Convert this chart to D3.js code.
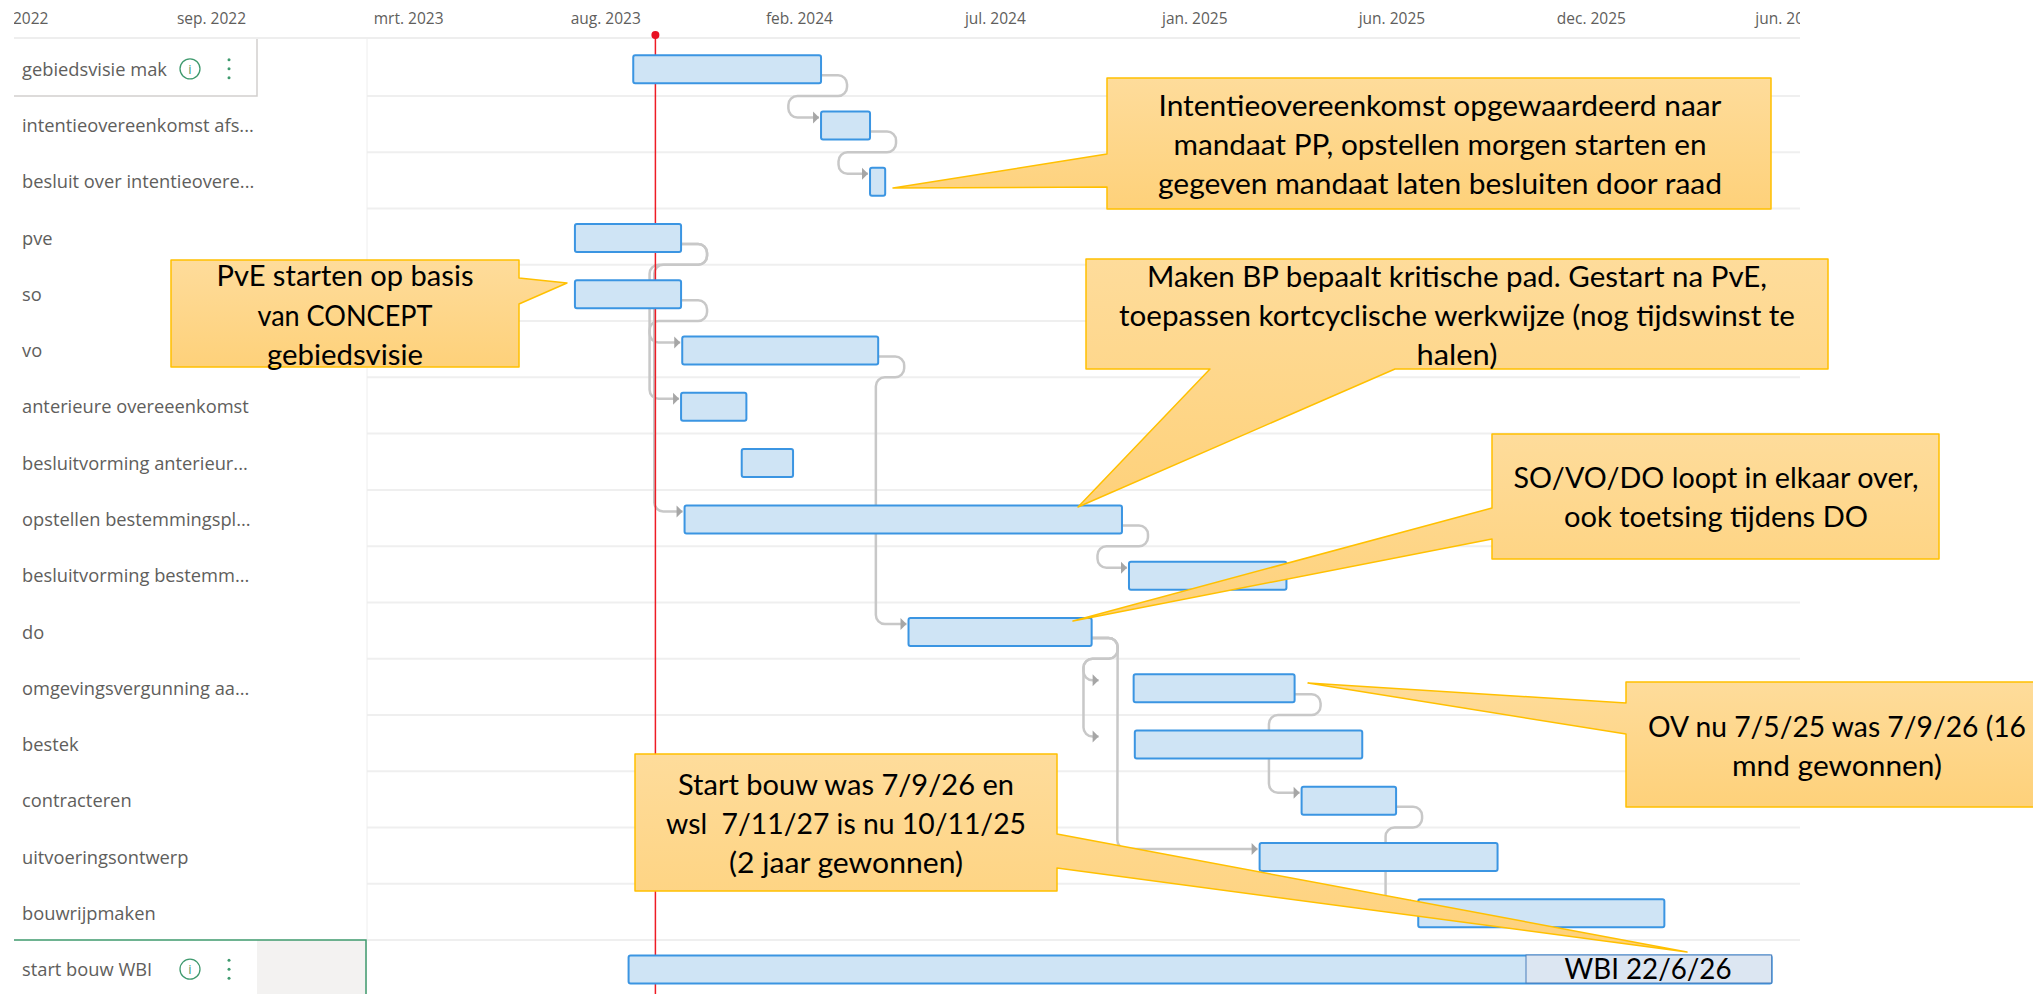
<!DOCTYPE html>
<html>

<head>
  <meta charset="utf-8">
  <script src="https://cdn.jsdelivr.net/npm/d3@7/dist/d3.min.js"></script>
  <style>
    body {
      margin: 0;
      background: white;
    }

    svg {
      display: block;
    }

    .tick text {
      font-family: "Open Sans", sans-serif;
      font-size: 15.5px;
      fill: #605e5c;
    }

    .label {
      font-family: "Open Sans", sans-serif;
      font-size: 18.3px;
      fill: #605e5c;
    }

    .note {
      font-family: Lato, sans-serif;
      font-size: 28.5px;
      fill: black;
      text-anchor: middle;
      white-space: pre;
    }
  </style>
</head>

<body>
  <script>
    const tasks = [
      'gebiedsvisie mak',
      'intentieovereenkomst afs...',
      'besluit over intentieovere...',
      'pve',
      'so',
      'vo',
      'anterieure overeeenkomst',
      'besluitvorming anterieur...',
      'opstellen bestemmingspl...',
      'besluitvorming bestemm...',
      'do',
      'omgevingsvergunning aa...',
      'bestek',
      'contracteren',
      'uitvoeringsontwerp',
      'bouwrijpmaken',
      'start bouw WBI'
    ]
    const starts = ['2023-09-17', '2024-02-25', '2024-04-07', '2023-07-29', '2023-07-29', '2023-10-29', '2023-10-28', '2023-12-19',
      '2023-10-31', '2024-11-15', '2024-05-10', '2024-11-19', '2024-11-20', '2025-04-12', '2025-03-07', '2025-07-21', '2023-09-13']
    const ends = ['2024-02-25', '2024-04-07', '2024-04-20', '2023-10-28', '2023-10-28', '2024-04-14', '2023-12-23', '2024-02-01',
      '2024-11-09', '2025-03-30', '2024-10-14', '2025-04-06', '2025-06-03', '2025-07-02', '2025-09-27', '2026-02-17', '2026-05-20']

    const tickDates = ['2022-04-04', '2022-09-20', '2023-03-08', '2023-08-24', '2024-02-06', '2024-07-23', '2025-01-10', '2025-06-28', '2025-12-16', '2026-06-03']
    const tickLabels = ['apr. 2022', 'sep. 2022', 'mrt. 2023', 'aug. 2023', 'feb. 2024', 'jul. 2024', 'jan. 2025', 'jun. 2025', 'dec. 2025', 'jun. 2026']
    const today = '2023-10-06'

    // dependencies: from task, to task, date of the vertical lane, date where the arrow ends (null = start of target)
    const linkFrom = [0, 1, 3, 3, 4, 5, 8, 10, 10, 10, 11, 13]
    const linkTo = [1, 2, 6, 8, 5, 10, 9, 11, 12, 14, 13, 15]
    const linkLane = ['2024-01-28', '2024-03-11', '2023-10-01', '2023-10-05', '2023-10-01', '2024-04-12', '2024-10-19', '2024-10-07', '2024-10-07', '2024-11-05', '2025-03-15', '2025-06-23']
    const linkTip = [null, null, null, null, null, null, null, '2024-10-20', '2024-10-20', null, null, null]

    const wbiNote = 'WBI 22/6/26'
    const notes = [
      ['Intentieovereenkomst opgewaardeerd naar', 'mandaat PP, opstellen morgen starten en', 'gegeven mandaat laten besluiten door raad'],
      ['PvE starten op basis', 'van CONCEPT', 'gebiedsvisie'],
      ['Maken BP bepaalt kritische pad. Gestart na PvE,', 'toepassen kortcyclische werkwijze (nog tijdswinst te', 'halen)'],
      ['SO/VO/DO loopt in elkaar over,', 'ook toetsing tijdens DO'],
      ['Start bouw was 7/9/26 en', 'wsl  7/11/27 is nu 10/11/25', '(2 jaar gewonnen)'],
      ['OV nu 7/5/25 was 7/9/26 (16', 'mnd gewonnen)']
    ]

    // callout outlines and text placement on the page
    const noteLayout = [
      { shape: [[1107, 78], [1771, 78], [1771, 209], [1107, 209], [1107, 187], [893, 188], [1107, 154]], cx: 1440, base: [116, 155, 194], widths: [563, 533, 564] },
      { shape: [[171, 260], [519, 260], [519, 278], [567, 283], [519, 304], [519, 367], [171, 367]], cx: 345, base: [286, 326, 365], widths: [257, 175, 156] },
      { shape: [[1086, 259], [1828, 259], [1828, 369], [1395, 369], [1078, 507], [1210, 369], [1086, 369]], cx: 1457, base: [287, 326, 365], widths: [620, 676, 81] },
      { shape: [[1492, 434], [1939, 434], [1939, 559], [1492, 559], [1492, 539], [1073, 621], [1492, 508]], cx: 1716, base: [488, 527], widths: [405, 304] },
      { shape: [[635, 754], [1057, 754], [1057, 834], [1687, 952], [1057, 868], [1057, 891], [635, 891]], cx: 846, base: [795, 834, 873], widths: [336, 360, 234] },
      { shape: [[1626, 682], [2040, 682], [2040, 807], [1626, 807], [1626, 734], [1308, 683], [1626, 703]], cx: 1837, base: [737, 776], widths: [378, 210] }
    ]

    const parse = d3.timeParse('%Y-%m-%d')
    const width = 2033
    const height = 994
    const chartLeft = 14
    const chartRight = 1800
    const paneX = 367
    const topY = 38
    const barOffset = 15.5
    const barHeight = 28

    const svg = d3.select('body').append('svg')
      .attr('width', width)
      .attr('height', height)

    const defs = svg.append('defs')
    defs.append('clipPath').attr('id', 'chart-clip')
      .append('rect').attr('x', chartLeft).attr('y', 0).attr('width', chartRight - chartLeft).attr('height', height)
    const grad = defs.append('linearGradient').attr('id', 'note-fill')
      .attr('x1', 0).attr('y1', 0).attr('x2', 0).attr('y2', 1)
    grad.append('stop').attr('offset', 0).attr('stop-color', '#fedc9b')
    grad.append('stop').attr('offset', 1).attr('stop-color', '#fed17a')

    const x = d3.scaleTime()
      .domain([parse('2022-09-20'), parse('2026-06-03')])
      .range([211, 1788])
    const y = d3.scaleBand()
      .domain(d3.range(tasks.length))
      .range([39.73, 39.73 + 56.27 * tasks.length])

    const chart = svg.append('g').attr('clip-path', 'url(#chart-clip)')

    // header axis
    const axis = d3.axisTop(x)
      .tickValues(tickDates.map(parse))
      .tickFormat((d, i) => tickLabels[i])
      .tickSize(0)
      .tickPadding(14)
    chart.append('g')
      .attr('transform', `translate(0,${topY})`)
      .call(axis)
      .call(g => g.select('.domain').remove())

    chart.append('line')
      .attr('x1', chartLeft).attr('x2', chartRight)
      .attr('y1', topY).attr('y2', topY)
      .attr('stroke', '#eeeeee').attr('stroke-width', 2)

    // row lines
    chart.selectAll('.row-line')
      .data(d3.range(tasks.length - 1))
      .join('line')
      .attr('class', 'row-line')
      .attr('x1', paneX).attr('x2', chartRight)
      .attr('y1', i => y(i) + y.bandwidth()).attr('y2', i => y(i) + y.bandwidth())
      .attr('stroke', '#efefef').attr('stroke-width', 2)

    chart.append('line')
      .attr('x1', paneX).attr('x2', paneX)
      .attr('y1', topY).attr('y2', y(tasks.length - 1))
      .attr('stroke', '#eeeeee')

    // selected rows in the left pane
    const lastTop = y(tasks.length - 1)
    chart.append('rect')
      .attr('x', 257).attr('y', lastTop).attr('width', paneX - 257).attr('height', height - lastTop)
      .attr('fill', '#f3f2f1')
    chart.append('path')
      .attr('d', d3.line()([[chartLeft, lastTop], [paneX - 1, lastTop], [paneX - 1, height]]))
      .attr('fill', 'none').attr('stroke', '#3f9a6e').attr('stroke-width', 1.5)
    chart.append('path')
      .attr('d', d3.line()([[chartLeft, y(0) + y.bandwidth()], [257, y(0) + y.bandwidth()], [257, topY + 1]]))
      .attr('fill', 'none').attr('stroke', '#d2d0ce').attr('stroke-width', 1.5)

    chart.selectAll('.label')
      .data(tasks)
      .join('text')
      .attr('class', 'label')
      .attr('x', 22)
      .attr('y', (d, i) => y(i) + y.bandwidth() / 2 + 8)
      .text(d => d)

    // info icon and menu dots on the two selected rows
    ;[0, tasks.length - 1].forEach(i => {
      const cy = y(i) + y.bandwidth() / 2 + 1
      chart.append('circle')
        .attr('cx', 190).attr('cy', cy).attr('r', 10)
        .attr('fill', 'none').attr('stroke', '#3f9a6e').attr('stroke-width', 1.3)
      chart.append('text')
        .attr('x', 190).attr('y', cy + 5).attr('text-anchor', 'middle')
        .attr('font-family', 'Open Sans').attr('font-size', 13).attr('fill', '#3f9a6e')
        .text('i')
      ;[-9, 0, 9].forEach(dy => {
        chart.append('circle')
          .attr('cx', 229).attr('cy', cy + dy).attr('r', 1.5)
          .attr('fill', '#3f9a6e')
      })
    })

    // dependency lines
    const radius = 9
    function linkPath(from, to, lane, tip) {
      const x0 = x(parse(ends[from]))
      const top = y(from) + barOffset
      const exitY = top + 20
      const rowY = y(from) + y.bandwidth()
      const gutter = x0 + 26
      const laneX = x(parse(lane))
      const tipX = tip ? x(parse(tip)) : x(parse(starts[to])) - 2
      const arrowY = y(to) + barOffset + 6
      const p = d3.path()
      p.moveTo(x0, exitY)
      if (Math.abs(gutter - laneX) < 2) {
        p.arcTo(gutter, exitY, gutter, exitY + radius, radius)
      } else {
        p.arcTo(gutter, exitY, gutter, exitY + radius, radius)
        p.arcTo(gutter, rowY, gutter - radius, rowY, radius)
        p.arcTo(laneX, rowY, laneX, rowY + radius, radius)
      }
      p.arcTo(laneX, arrowY, laneX + radius, arrowY, radius)
      p.lineTo(tipX, arrowY)
      return { d: p.toString(), tipX, arrowY }
    }

    const links = linkFrom.map((f, i) => linkPath(f, linkTo[i], linkLane[i], linkTip[i]))

    chart.selectAll('.link')
      .data(links)
      .join('path')
      .attr('class', 'link')
      .attr('d', d => d.d)
      .attr('fill', 'none')
      .attr('stroke', '#c8c8c8')
      .attr('stroke-width', 2.5)

    chart.selectAll('.arrow')
      .data(links)
      .join('path')
      .attr('class', 'arrow')
      .attr('d', d => d3.line()([[d.tipX, d.arrowY], [d.tipX - 6, d.arrowY - 6], [d.tipX - 6, d.arrowY + 6]]) + 'Z')
      .attr('fill', '#a6a6a6')

    // today marker
    chart.append('line')
      .attr('x1', x(parse(today))).attr('x2', x(parse(today)))
      .attr('y1', 35).attr('y2', height)
      .attr('stroke', '#ee1c25').attr('stroke-width', 1.5)
    chart.append('circle')
      .attr('cx', x(parse(today))).attr('cy', 35).attr('r', 4)
      .attr('fill', '#e81123')

    // bars
    chart.selectAll('.bar')
      .data(tasks)
      .join('rect')
      .attr('class', 'bar')
      .attr('x', (d, i) => x(parse(starts[i])))
      .attr('y', (d, i) => y(i) + barOffset)
      .attr('width', (d, i) => x(parse(ends[i])) - x(parse(starts[i])))
      .attr('height', barHeight)
      .attr('rx', 2)
      .attr('fill', '#cfe4f5')
      .attr('stroke', '#3b95e2')
      .attr('stroke-width', 2)

    // WBI box on top of the last bar
    const wbiRight = x(parse(ends[tasks.length - 1]))
    svg.append('rect')
      .attr('x', 1526).attr('y', 955)
      .attr('width', wbiRight - 1526).attr('height', 28)
      .attr('fill', '#dce6f2')
      .attr('stroke', '#4a7ebb')
      .attr('stroke-width', 1)
    svg.append('text')
      .attr('class', 'note')
      .attr('x', 1648).attr('y', 979)
      .attr('textLength', 167)
      .attr('lengthAdjust', 'spacingAndGlyphs')
      .text(wbiNote)

    // callouts
    noteLayout.forEach((n, i) => {
      svg.append('path')
        .attr('d', d3.line()(n.shape) + 'Z')
        .attr('fill', 'url(#note-fill)')
        .attr('stroke', '#ffc000')
        .attr('stroke-width', 1.5)
        .attr('stroke-linejoin', 'round')
      notes[i].forEach((line, j) => {
        svg.append('text')
          .attr('class', 'note')
          .attr('x', n.cx)
          .attr('y', n.base[j])
          .attr('textLength', n.widths[j])
          .attr('lengthAdjust', 'spacingAndGlyphs')
          .text(line)
      })
    })
  </script>
</body>

</html>
